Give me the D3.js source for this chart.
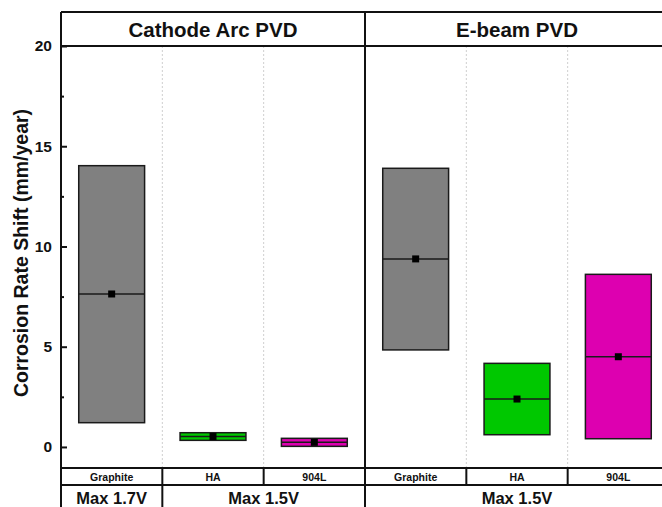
<!DOCTYPE html>
<meta charset="utf-8">
<style>
body { margin: 0; background: #fff; }
text { font-family: "Liberation Sans", Arial, sans-serif; font-weight: bold; fill: #111; }
</style>
<body>
<div id="chart"></div>
<script src="https://d3js.org/d3.v7.min.js"></script>
<script>
// values (mm/year)
var methods = ['Cathode Arc PVD', 'E-beam PVD']
var materials = ['Graphite', 'HA', '904L']
var boxTop = [14.03, 0.71, 0.43, 13.9, 4.17, 8.61]
var boxBottom = [1.21, 0.33, 0.03, 4.84, 0.61, 0.41]
var boxMean = [7.63, 0.52, 0.23, 9.38, 2.39, 4.50]
var colors = ['#808080', '#00c800', '#dd00b0']
var voltages = ['Max 1.7V', 'Max 1.5V', 'Max 1.5V']
var voltageSpan = [1, 2, 3]
var majorTicks = [0, 5, 10, 15, 20]
var minorTicks = [2.5, 7.5, 12.5, 17.5]

var width = 662, height = 507
var top0 = 12, headH = 34, plotBottom = 468, rowH = 17

var cols = []
methods.forEach(function (m, i) {
    materials.forEach(function (mat, j) {
        cols.push({ key: i + '-' + j, method: m, material: mat, k: i * 3 + j })
    })
})

var x = d3.scaleBand()
    .domain(cols.map(function (d) { return d.key }))
    .range([61, 669])
    .padding(0)

var y = d3.scaleLinear()
    .domain([-1.05, 20])
    .range([plotBottom, top0 + headH])

var svg = d3.select('#chart')
    .append('svg')
    .attr('width', width)
    .attr('height', height)

var left = x.range()[0], right = x.range()[1]

// dotted separators between materials
svg.append('g').selectAll('line')
    .data(cols.filter(function (d, i) { return i % 3 !== 0 }))
    .enter().append('line')
    .attr('x1', function (d) { return x(d.key) })
    .attr('x2', function (d) { return x(d.key) })
    .attr('y1', y(20))
    .attr('y2', plotBottom)
    .style('stroke', '#cfcfcf')
    .style('stroke-dasharray', '2,2')
    .style('stroke-width', 1)

// boxes
var bw = x.bandwidth() * 0.65
var boxes = svg.append('g').selectAll('g')
    .data(cols)
    .enter().append('g')

boxes.append('rect')
    .attr('x', function (d) { return x(d.key) + (x.bandwidth() - bw) / 2 })
    .attr('width', bw)
    .attr('y', function (d) { return y(boxTop[d.k]) })
    .attr('height', function (d) { return y(boxBottom[d.k]) - y(boxTop[d.k]) })
    .style('fill', function (d) { return colors[d.k % 3] })
    .style('stroke', '#1a1a1a')
    .style('stroke-width', 1.5)

boxes.append('line')
    .attr('x1', function (d) { return x(d.key) + (x.bandwidth() - bw) / 2 })
    .attr('x2', function (d) { return x(d.key) + (x.bandwidth() + bw) / 2 })
    .attr('y1', function (d) { return y(boxMean[d.k]) })
    .attr('y2', function (d) { return y(boxMean[d.k]) })
    .style('stroke', '#1a1a1a')
    .style('stroke-width', 1.5)

boxes.append('rect')
    .attr('x', function (d) { return x(d.key) + x.bandwidth() / 2 - 3.5 })
    .attr('y', function (d) { return y(boxMean[d.k]) - 3.5 })
    .attr('width', 7)
    .attr('height', 7)
    .style('fill', '#000')

// frame lines
var frame = svg.append('g').style('stroke', '#111').style('stroke-width', 2)
frame.append('line').attr('x1', left).attr('x2', right).attr('y1', top0).attr('y2', top0)
frame.append('line').attr('x1', left).attr('x2', right).attr('y1', y(20)).attr('y2', y(20))
frame.append('line').attr('x1', left).attr('x2', right).attr('y1', plotBottom).attr('y2', plotBottom)
frame.append('line').attr('x1', left).attr('x2', right).attr('y1', plotBottom + rowH).attr('y2', plotBottom + rowH)
frame.append('line').attr('x1', left).attr('x2', left).attr('y1', top0).attr('y2', height + 5)
frame.append('line').attr('x1', x('1-0')).attr('x2', x('1-0')).attr('y1', top0).attr('y2', height + 5)
frame.append('line').attr('x1', right).attr('x2', right).attr('y1', top0).attr('y2', height + 5)

// material row separators
frame.selectAll('.sep')
    .data(cols.filter(function (d, i) { return i % 3 !== 0 }))
    .enter().append('line')
    .attr('x1', function (d) { return x(d.key) })
    .attr('x2', function (d) { return x(d.key) })
    .attr('y1', plotBottom)
    .attr('y2', function (d) { return d.key === '0-1' ? height + 5 : plotBottom + rowH })

// y axis
var yAxis = d3.axisLeft(y)
    .tickValues(majorTicks)
    .tickSize(-6)
    .tickPadding(9)
    .tickFormat(d3.format('d'))

var gy = svg.append('g')
    .attr('transform', 'translate(' + left + ',0)')
    .call(yAxis)
gy.select('.domain').remove()
gy.selectAll('.tick line').style('stroke', '#111').style('stroke-width', 2)
gy.selectAll('.tick text')
    .style('font-size', '15.5px')
    .style('font-family', '"Liberation Sans", Arial, sans-serif')
    .style('font-weight', 'bold')
    .style('fill', '#111')

var gyMinor = svg.append('g')
    .attr('transform', 'translate(' + left + ',0)')
    .call(d3.axisLeft(y).tickValues(minorTicks).tickSize(-3).tickFormat(''))
gyMinor.select('.domain').remove()
gyMinor.selectAll('.tick line').style('stroke', '#111').style('stroke-width', 2)

svg.append('text')
    .attr('transform', 'translate(28,' + 253 + ') rotate(-90)')
    .attr('text-anchor', 'middle')
    .style('font-size', '19.5px')
    .text('Corrosion Rate Shift (mm/year)')

// header labels
svg.append('g').selectAll('text')
    .data(methods)
    .enter().append('text')
    .attr('x', function (d, i) { return x(i + '-1') + x.bandwidth() / 2 })
    .attr('y', top0 + 25)
    .attr('text-anchor', 'middle')
    .style('font-size', '20.5px')
    .text(function (d) { return d })

// material labels
svg.append('g').selectAll('text')
    .data(cols)
    .enter().append('text')
    .attr('x', function (d) { return x(d.key) + x.bandwidth() / 2 })
    .attr('y', plotBottom + 13)
    .attr('text-anchor', 'middle')
    .style('font-size', '10.5px')
    .text(function (d) { return d.material })

// voltage labels
var vStart = [0, 1, 3]
svg.append('g').selectAll('text')
    .data(voltages)
    .enter().append('text')
    .attr('x', function (d, i) {
        var a = x(cols[vStart[i]].key)
        return a + voltageSpan[i] * x.bandwidth() / 2
    })
    .attr('y', plotBottom + rowH + 19)
    .attr('text-anchor', 'middle')
    .style('font-size', '16.5px')
    .text(function (d) { return d })
</script>
</body>
